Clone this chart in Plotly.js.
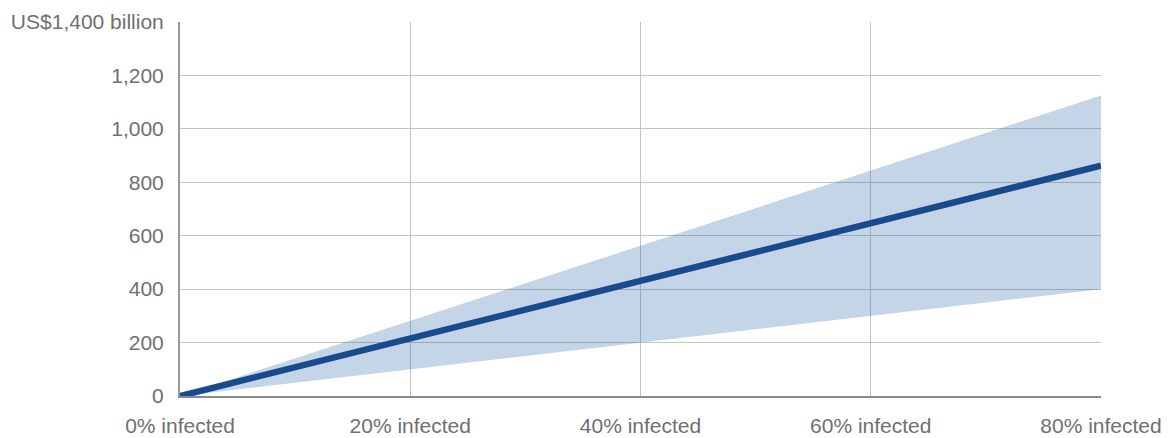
<!DOCTYPE html>
<html>
<head>
<meta charset="utf-8">
<script src="https://cdn.plot.ly/plotly-3.0.1.min.js"></script>
<style>html,body{margin:0;padding:0;background:#fff;}#chart{width:1176px;height:438px;}</style>
</head>
<body>
<div id="chart"></div>
<script>
const infectedPct = [0, 20, 40, 60, 80];
const xTickLabels = ["0% infected", "20% infected", "40% infected", "60% infected", "80% infected"];
const centralCost = [0, 215, 430, 645, 862];
const upperCost = [0, 281, 563, 844, 1125];
const lowerCost = [0, 100, 200, 300, 400];
const yTickVals = [0, 200, 400, 600, 800, 1000, 1200, 1400];
const yTickLabels = ["0", "200", "400", "600", "800", "1,000", "1,200", "US$1,400 billion"];

const traces = [
  {x: infectedPct, y: lowerCost, mode: 'lines', line: {width: 0}, hoverinfo: 'skip', showlegend: false},
  {x: infectedPct, y: upperCost, mode: 'lines', line: {width: 0}, fill: 'tonexty', fillcolor: 'rgba(40,100,170,0.27)', hoverinfo: 'skip', showlegend: false},
  {x: infectedPct, y: centralCost, mode: 'lines', line: {color: '#1b4a8c', width: 6.5}, showlegend: false}
];

const layout = {
  width: 1176, height: 438,
  margin: {l: 180, r: 75, t: 22, b: 42},
  paper_bgcolor: '#fff', plot_bgcolor: '#fff',
  font: {family: 'Liberation Sans, Arial, sans-serif', size: 21, color: '#707070'},
  xaxis: {
    range: [0, 80], tickvals: infectedPct, ticktext: xTickLabels,
    showgrid: true, gridcolor: '#c4c4c4', gridwidth: 1,
    zeroline: false, showline: true, linecolor: '#8a8a8a', linewidth: 2,
    ticks: '', ticklabelstandoff: 10, fixedrange: true
  },
  yaxis: {
    range: [0, 1400], tickvals: yTickVals, ticktext: yTickLabels,
    showgrid: true, gridcolor: '#c4c4c4', gridwidth: 1,
    zeroline: false, showline: true, linecolor: '#9a9a9a', linewidth: 2,
    ticks: '', ticklabelstandoff: 10, fixedrange: true
  }
};

Plotly.newPlot('chart', traces, layout, {displayModeBar: false, staticPlot: true});
</script>
</body>
</html>
